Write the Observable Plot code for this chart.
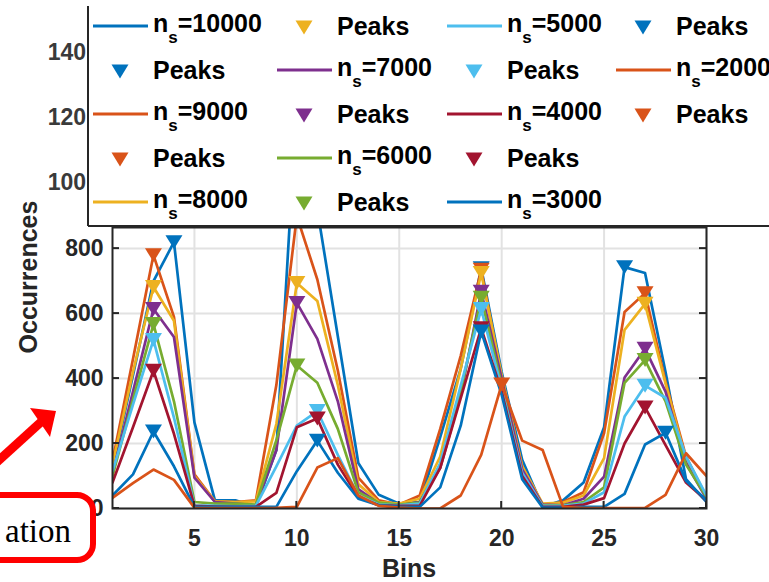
<!DOCTYPE html>
<html><head><meta charset="utf-8">
<script src="https://cdn.jsdelivr.net/npm/d3@7"></script>
<script src="https://cdn.jsdelivr.net/npm/@observablehq/plot@0.6"></script>
<style>body{margin:0;background:#fff;overflow:hidden} svg{display:block}</style>
</head><body><div id="chart"></div>
<script>
// ---- data ----
const bins = [1,2,3,4,5,6,7,8,9,10,11,12,13,14,15,16,17,18,19,20,21,22,23,24,25,26,27,28,29,30];
const seriesNames = ["10000","9000","8000","7000","6000","5000","4000","3000","2000"];
const seriesColors = ["#0072BD","#D95319","#EDB120","#7E2F8E","#77AC30","#4DBEEE","#A2142F","#0072BD","#D95319"];
const s10000 = [125,410,700,820,265,25,25,5,180,1250,920,530,140,42,15,20,220,430,740,420,150,5,25,80,250,743,725,420,90,20];
const s9000  = [145,460,780,590,105,22,20,25,380,900,705,425,95,25,12,40,245,470,735,400,130,10,20,50,232,605,663,390,160,35];
const s8000  = [135,420,682,578,100,22,20,22,260,694,639,380,75,20,15,30,160,430,725,410,130,15,18,40,155,550,630,385,150,35];
const s7000  = [105,360,614,528,95,20,15,10,180,633,522,330,60,15,10,20,125,350,667,400,120,12,10,30,98,403,492,360,140,30];
const s6000  = [100,335,568,330,20,15,15,12,210,440,387,245,50,18,12,18,135,360,649,380,100,10,10,20,65,387,457,330,135,35];
const s5000  = [115,320,519,280,10,8,7,8,130,255,300,165,40,12,10,15,140,378,614,370,110,8,8,15,50,283,378,341,160,40];
const s4000  = [80,250,424,230,8,6,5,5,48,250,277,135,35,10,8,8,125,340,555,360,100,5,5,12,32,200,311,195,80,25];
const s3000  = [40,105,237,130,5,5,5,5,5,115,209,110,30,10,6,5,65,255,545,350,90,3,3,5,5,45,197,233,85,25];
const s2000  = [33,78,120,88,2,1,1,1,2,5,126,155,40,8,3,0,0,40,165,382,209,180,5,1,1,1,2,42,170,100];
// bins where the "Peaks" markers sit
const peaks10000 = [4,10,19,26];
const peaks9000  = [3,10,19,27];
const peaks8000  = [3,10,19,27];
const peaks7000  = [3,10,19,27];
const peaks6000  = [3,10,19,27];
const peaks5000  = [3,11,19,27];
const peaks4000  = [3,11,19,27];
const peaks3000  = [3,11,19,28];
const peaks2000  = [20];
const xTicks = [5,10,15,20,25,30];
const yTicks = [0,200,400,600,800];
const backTickLabels = ["140","120","100"];
const xLabel = "Bins";
const yLabel = "Occurrences";
const peakLabel = "Peaks";
const noteText = "ation";

// ---- build tables ----
const values = [s10000,s9000,s8000,s7000,s6000,s5000,s4000,s3000,s2000];
const peaks = [peaks10000,peaks9000,peaks8000,peaks7000,peaks6000,peaks5000,peaks4000,peaks3000,peaks2000];
const rows = seriesNames.flatMap((n,i)=>bins.map((b,j)=>({series:n, bin:b, value:values[i][j]})));
const peakRows = seriesNames.flatMap((n,i)=>peaks[i].map(b=>({series:n, bin:b, value:values[i][bins.indexOf(b)]})));

const triDown = {draw(ctx, size){ const r = Math.sqrt(size/Math.PI); const w=r, h=r*0.82;
  ctx.moveTo(-w,-h); ctx.lineTo(w,-h); ctx.lineTo(0,h); ctx.closePath(); }};

const W = 769, H = 582;
const mL = 112, mR = 63, mT = 227, mB = 74;
const font = "'Liberation Sans', Arial, sans-serif";

const chart = Plot.plot({
  width: W, height: H,
  marginLeft: mL, marginRight: mR, marginTop: mT, marginBottom: mB,
  style: {fontFamily: font, fontSize: "23px", fontWeight: "bold", color: "#262626", background: "#fff", overflow: "visible"},
  x: {domain: [1,30]},
  y: {domain: [0,865]},
  color: {domain: seriesNames, range: seriesColors},
  marks: [
    Plot.gridX(xTicks, {stroke: "#e2e2e2", strokeOpacity: 1, strokeWidth: 2}),
    Plot.gridY(yTicks, {stroke: "#e2e2e2", strokeOpacity: 1, strokeWidth: 2}),
    ...seriesNames.flatMap((n)=>[
      Plot.line(rows.filter(d=>d.series===n), {x:"bin", y:"value", stroke:"series", strokeWidth:2.7, clip:true}),
      Plot.dot(peakRows.filter(d=>d.series===n), {x:"bin", y:"value", fill:"series", symbol: triDown, r: 8.5, clip:true})
    ]),
    Plot.frame({stroke: "#262626", strokeWidth: 2}),
    Plot.axisX(xTicks, {tickSize: 0, tickPadding: 21, label: null}),
    Plot.axisY(yTicks, {tickSize: 0, tickPadding: 9, label: null})
  ]
});
document.getElementById("chart").appendChild(chart);

const svg = d3.select(chart);
const xs = chart.scale("x"), ys = chart.scale("y");
const x0 = xs.apply(1), x1 = xs.apply(30), yb = ys.apply(0);

// inward tick marks
const tg = svg.append("g").attr("stroke", "#262626").attr("stroke-width", 2);
yTicks.forEach(v=>{
  const y = ys.apply(v);
  tg.append("line").attr("x1", x0).attr("x2", x0+7).attr("y1", y).attr("y2", y);
  tg.append("line").attr("x1", x1).attr("x2", x1-7).attr("y1", y).attr("y2", y);
});
xTicks.forEach(v=>{
  const x = xs.apply(v);
  tg.append("line").attr("x1", x).attr("x2", x).attr("y1", yb).attr("y2", yb-7);
});

// axis labels
svg.append("text").attr("x", (x0+x1)/2).attr("y", 577).attr("text-anchor","middle")
  .attr("font-family", font).attr("font-size", 25).attr("font-weight","bold").attr("fill","#262626").text(xLabel);
svg.append("text").attr("transform","translate(37,277) rotate(-90)").attr("text-anchor","middle")
  .attr("font-family", font).attr("font-size", 25).attr("font-weight","bold").attr("fill","#262626").text(yLabel);

// background chart tick labels (partially visible figure behind legend)
backTickLabels.forEach((t,i)=>{
  svg.append("text").attr("x", 86).attr("y", 60 + 65*i).attr("text-anchor","end")
    .attr("font-family", font).attr("font-size", 23).attr("font-weight","bold").attr("fill","#3a3a3a").text(t);
});

// legend
const lg = svg.append("g").attr("text-anchor","start");
lg.append("rect").attr("x", 88).attr("y", -5).attr("width", W).attr("height", 231).attr("fill", "#fff");
lg.append("line").attr("x1", 88).attr("x2", 88).attr("y1", 6).attr("y2", 226).attr("stroke","#262626").attr("stroke-width",2);
lg.append("line").attr("x1", 88).attr("x2", W).attr("y1", 226).attr("y2", 226).attr("stroke","#262626").attr("stroke-width",2);
const colX = [93, 277, 447, 616];
const symPath = d3.symbol(triDown, 8.5*8.5*Math.PI)();
const entries = seriesNames.flatMap((n,i)=>[{kind:"line", name:n, color:seriesColors[i]},{kind:"peak", name:n, color:seriesColors[i]}]);
entries.forEach((e,k)=>{
  const col = Math.floor(k/5), row = k%5;
  const cx = colX[col], cy = 26 + 44*row;
  if (e.kind === "line") {
    lg.append("line").attr("x1", cx).attr("x2", cx+55).attr("y1", cy).attr("y2", cy).attr("stroke", e.color).attr("stroke-width", 3);
    const t = lg.append("text").attr("x", cx+60).attr("y", cy+6).attr("text-anchor","start").attr("font-family", font).attr("font-size", 25).attr("font-weight","bold").attr("fill","#000");
    t.append("tspan").text("n");
    t.append("tspan").attr("dy", 11).attr("font-size", 17).text("s");
    t.append("tspan").attr("dy", -11).text("=" + e.name);
  } else {
    lg.append("path").attr("d", symPath).attr("transform", `translate(${cx+27},${cy+1.5})`).attr("fill", e.color);
    lg.append("text").attr("x", cx+60).attr("y", cy+9).attr("text-anchor","start").attr("font-family", font).attr("font-size", 25).attr("font-weight","bold").attr("fill","#000").text(peakLabel);
  }
});

// red annotation overlay
const an = svg.append("g");
an.append("line").attr("x1", -3).attr("y1", 462).attr("x2", 41).attr("y2", 422).attr("stroke","#ff0000").attr("stroke-width", 9);
an.append("path").attr("d", "M56,411L30,408L50,437Z").attr("fill","#ff0000");
an.append("rect").attr("x", -40).attr("y", 495).attr("width", 133).attr("height", 65).attr("rx", 16)
  .attr("fill","#fff").attr("stroke","#ff0000").attr("stroke-width", 6);
an.append("text").attr("x", 71).attr("y", 542).attr("text-anchor","end")
  .attr("font-family","'Liberation Serif', 'Times New Roman', serif").attr("font-size", 33).attr("font-weight","normal").attr("fill","#000").text(noteText);
</script>
</body></html>
